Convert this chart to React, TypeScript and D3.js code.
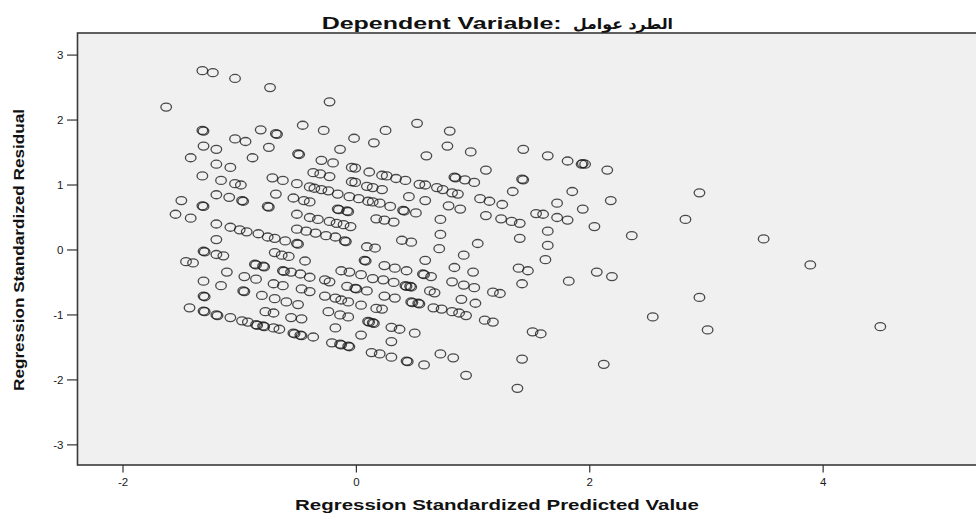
import React from "react";
import * as d3 from "d3";

// Regression Standardized Predicted Value (x) and Residual (y)
const predicted: number[] = [
  -1.32, -1.23, -1.04, -0.74, -1.63, -0.23, -1.32, -1.31, -0.82, -0.69, -0.68, -0.46, -0.28, 0.25,
  -1.04, -0.95, -0.02, 0.15, -1.31, -1.2, -0.75, -0.14, -1.42, -0.89, -0.5, -0.49, -0.3, -0.2,
  -1.2, -1.08, -0.37, -0.31, -0.23, -0.04, -0.01, 0.11, 0.22, 0.26, 0.34, 0.42, -1.32, -1.16,
  -1.04, -0.99, -0.72, -0.63, -0.51, -0.4, -0.36, -0.3, -0.24, -0.16, -0.04, -0.01, 0.09, 0.14,
  0.22, -1.2, -1.09, -0.98, -0.97, -0.69, -0.54, -0.45, -0.4, -0.06, 0.02, 0.1, 0.14, 0.2, 0.29,
  -1.5, -1.32, -1.31, -0.76, -0.75, -1.55, -1.42, -0.51, -0.4, -0.33, -0.23, -0.17, -0.11, -0.05,
  -0.16, -0.15, -0.08, -0.07, 0.17, 0.24, 0.32, -1.2, -1.08, -1.0, -0.94, -0.84, -0.76, -0.7,
  -0.61, -0.51, -0.5, -0.51, -0.43, -0.35, -0.26, -0.18, -0.1, -0.09, -1.2, 0.09, 0.16,
  -1.31, -1.3, -1.2, -1.14, -1.46, -1.4, -0.87, -0.86, -0.8, -0.79, -0.7, -0.64, -0.58, -0.44,
  0.07, 0.08, -0.63, -0.62, -0.56, -0.48, -0.4, -1.11, -0.96, -0.86, -0.71, -0.63, -0.13, -0.06,
  0.04, 0.14, 0.23, 0.32, 0.24, 0.33, -1.31, -1.16, -0.97, -0.96, -0.47, -0.4, -0.27, -0.23,
  -0.08, -0.01, 0.0, 0.09, -1.31, -1.3, -0.81, -0.7, -0.6, -0.5, -0.27, -0.18, -0.13, -0.07,
  0.04, 0.24, 0.33, -1.43, -1.31, -1.3, -1.2, -1.19, -1.08, -0.98, -0.93, -0.86, -0.85, -0.8,
  -0.79, -0.71, -0.66, -0.78, -0.71, -0.56, -0.47, -0.24, -0.14, -0.07, 0.17, 0.22, 0.1, 0.11,
  0.14, 0.15, 0.3, 0.37, -0.54, -0.53, -0.48, -0.47, -0.37, -0.18, 0.04, -0.21, -0.14, -0.13,
  -0.07, -0.06, 0.13, 0.2, 0.3, 0.3,
  0.52, 0.8, 0.6, 0.78, 0.98, 1.43, 1.64, 1.81, 1.93, 1.94, 1.96, 2.15, 0.54, 0.59, 0.69, 0.74,
  0.82, 0.87, 0.84, 0.85, 0.93, 1.01, 1.11, 1.42, 1.43, 1.34, 1.06, 1.14, 1.25, 1.85, 2.18, 1.72,
  1.94, 1.54, 1.6, 1.72, 1.81, 1.11, 1.24, 1.33, 1.4, 2.04, 2.36, 1.64, 1.4, 1.64, 1.04, 0.72,
  0.72, 0.79, 0.89, 0.51, 0.59, 0.45, 0.4, 0.41, 0.39, 0.47, 0.71, 0.92, 0.59, 0.43, 0.57, 0.58,
  0.64, 0.84, 1.0, 1.39, 1.47, 1.62, 0.42, 0.43, 0.46, 0.47, 0.82, 0.92, 1.01, 1.17, 1.23, 1.42,
  1.82, 2.06, 2.19, 2.54, 0.63, 0.67, 0.47, 0.48, 0.53, 0.54, 0.66, 0.73, 0.82, 0.88, 0.94, 0.9,
  1.02, 1.1, 1.17, 0.5, 0.43, 0.44, 0.58, 0.72, 0.83, 0.94, 1.42, 1.38, 1.51, 1.58, 2.12,
  2.94, 2.82, 3.49, 3.89, 2.94, 3.01, 4.49,
];

const residual: number[] = [
  2.76, 2.73, 2.64, 2.5, 2.2, 2.28, 1.84, 1.83, 1.85, 1.79, 1.78, 1.92, 1.84, 1.84,
  1.71, 1.67, 1.72, 1.65, 1.6, 1.55, 1.58, 1.55, 1.42, 1.42, 1.48, 1.47, 1.38, 1.34,
  1.32, 1.27, 1.19, 1.17, 1.13, 1.27, 1.26, 1.2, 1.15, 1.14, 1.1, 1.07, 1.14, 1.07,
  1.02, 1.0, 1.11, 1.07, 1.02, 0.97, 0.95, 0.93, 0.91, 0.86, 1.05, 1.04, 0.98, 0.96,
  0.93, 0.85, 0.81, 0.76, 0.75, 0.86, 0.8, 0.76, 0.74, 0.82, 0.79, 0.75, 0.74, 0.72, 0.67,
  0.76, 0.68, 0.67, 0.67, 0.66, 0.55, 0.49, 0.55, 0.5, 0.47, 0.44, 0.41, 0.39, 0.36,
  0.63, 0.62, 0.6, 0.59, 0.48, 0.46, 0.43, 0.4, 0.35, 0.31, 0.28, 0.25, 0.2, 0.18,
  0.14, 0.1, 0.09, 0.32, 0.29, 0.26, 0.22, 0.2, 0.14, 0.13, 0.16, 0.05, 0.03,
  -0.02, -0.03, -0.07, -0.09, -0.18, -0.2, -0.22, -0.23, -0.25, -0.26, -0.04, -0.08, -0.1, -0.17,
  -0.16, -0.17, -0.32, -0.33, -0.34, -0.37, -0.42, -0.34, -0.41, -0.45, -0.52, -0.55, -0.32, -0.34,
  -0.38, -0.44, -0.46, -0.5, -0.24, -0.28, -0.48, -0.55, -0.63, -0.64, -0.6, -0.64, -0.46, -0.49,
  -0.56, -0.59, -0.6, -0.63, -0.71, -0.72, -0.7, -0.75, -0.8, -0.84, -0.71, -0.74, -0.77, -0.8,
  -0.85, -0.71, -0.74, -0.89, -0.94, -0.95, -1.0, -1.01, -1.04, -1.09, -1.11, -1.15, -1.16, -1.17,
  -1.18, -1.2, -1.22, -0.95, -0.97, -1.04, -1.06, -0.95, -1.0, -1.03, -0.9, -0.91, -1.1, -1.11,
  -1.12, -1.13, -1.19, -1.22, -1.28, -1.29, -1.31, -1.32, -1.34, -1.2, -1.31, -1.43, -1.45, -1.46,
  -1.48, -1.49, -1.58, -1.6, -1.65, -1.41,
  1.95, 1.83, 1.45, 1.6, 1.51, 1.55, 1.45, 1.37, 1.32, 1.33, 1.32, 1.23, 1.01, 1.0, 0.96, 0.93,
  0.88, 0.86, 1.12, 1.11, 1.08, 1.04, 1.23, 1.09, 1.08, 0.9, 0.79, 0.75, 0.7, 0.9, 0.76, 0.72,
  0.63, 0.56, 0.55, 0.5, 0.46, 0.53, 0.48, 0.44, 0.41, 0.36, 0.22, 0.29, 0.18, 0.07, 0.1, 0.24,
  0.47, 0.68, 0.63, 0.57, 0.76, 0.82, 0.61, 0.6, 0.15, 0.12, 0.02, -0.08, -0.16, -0.32, -0.37, -0.38,
  -0.41, -0.27, -0.34, -0.28, -0.32, -0.15, -0.55, -0.56, -0.56, -0.57, -0.49, -0.54, -0.58, -0.65, -0.67, -0.52,
  -0.48, -0.34, -0.41, -1.03, -0.63, -0.66, -0.8, -0.81, -0.82, -0.83, -0.89, -0.91, -0.95, -0.97, -1.01, -0.76,
  -0.82, -1.08, -1.11, -1.28, -1.71, -1.72, -1.77, -1.6, -1.66, -1.93, -1.68, -2.13, -1.26, -1.29, -1.76,
  0.88, 0.47, 0.17, -0.23, -0.73, -1.23, -1.18,
];

const xTicks: number[] = [-2, 0, 2, 4];
const yTicks: number[] = [-3, -2, -1, 0, 1, 2, 3];

const titleLead = "Dependent Variable:";
const titleArabic = "الطرد عوامل";
const xLabel = "Regression Standardized Predicted Value";
const yLabel = "Regression Standardized Residual";

const W = 976;
const H = 521;
const plotLeft = 77.5;
const plotTop = 33;
const plotBottom = 465;

export default function App() {
  const x = d3.scaleLinear().domain([-2.39, 5.31]).range([plotLeft, W]);
  const y = d3.scaleLinear().domain([-3.31, 3.34]).range([plotBottom, plotTop]);
  const points = d3.zip(predicted, residual);
  const font = "'Liberation Sans', Arial, sans-serif";

  return (
    <svg
      width={W}
      height={H}
      style={{ position: "absolute", left: 0, top: 0, background: "#fff" }}
      fontFamily={font}
    >
      <rect
        x={plotLeft}
        y={plotTop}
        width={W + 20 - plotLeft}
        height={plotBottom - plotTop}
        fill="#f0f0f0"
        stroke="#3a3a3a"
        strokeWidth={1.6}
      />
      {yTicks.map((t) => (
        <g key={"y" + t}>
          <line x1={plotLeft - 10.5} x2={plotLeft} y1={y(t)} y2={y(t)} stroke="#333" strokeWidth={1.2} />
          <text x={plotLeft - 14} y={y(t)} textAnchor="end" dominantBaseline="central" fontSize={11.5} fill="#1a1a1a">
            {t}
          </text>
        </g>
      ))}
      {xTicks.map((t) => (
        <g key={"x" + t}>
          <line x1={x(t)} x2={x(t)} y1={plotBottom} y2={plotBottom + 7.5} stroke="#333" strokeWidth={1.2} />
          <text x={x(t)} y={plotBottom + 17} textAnchor="middle" dominantBaseline="central" fontSize={11.5} fill="#1a1a1a">
            {t}
          </text>
        </g>
      ))}
      <g>
        {points.map(([px, py], i) => (
          <ellipse
            key={i}
            cx={x(px)}
            cy={y(py)}
            rx={5.3}
            ry={4}
            fill="none"
            stroke="#1a1a1a"
            strokeOpacity={0.78}
            strokeWidth={1.3}
          />
        ))}
      </g>
      <text
        x={321.7}
        y={28.5}
        fontSize={16}
        fontWeight="bold"
        fill="#111"
        textLength={240}
        lengthAdjust="spacingAndGlyphs"
      >
        {titleLead}
      </text>
      <text
        x={573}
        y={28.5}
        fontSize={15}
        fontWeight="bold"
        fill="#111"
        textLength={100}
        lengthAdjust="spacingAndGlyphs"
        fontFamily="'DejaVu Sans', 'Noto Sans', sans-serif"
      >
        {titleArabic}
      </text>
      <text
        x={497}
        y={510}
        textAnchor="middle"
        fontSize={15}
        fontWeight="bold"
        fill="#111"
        textLength={404}
        lengthAdjust="spacingAndGlyphs"
      >
        {xLabel}
      </text>
      <text
        transform={`translate(24,250) rotate(-90)`}
        textAnchor="middle"
        fontSize={14}
        fontWeight="bold"
        fill="#111"
        textLength={282}
        lengthAdjust="spacingAndGlyphs"
        fontFamily="'Liberation Sans Narrow', 'Arial Narrow', 'Liberation Sans', Arial, sans-serif"
      >
        {yLabel}
      </text>
    </svg>
  );
}
